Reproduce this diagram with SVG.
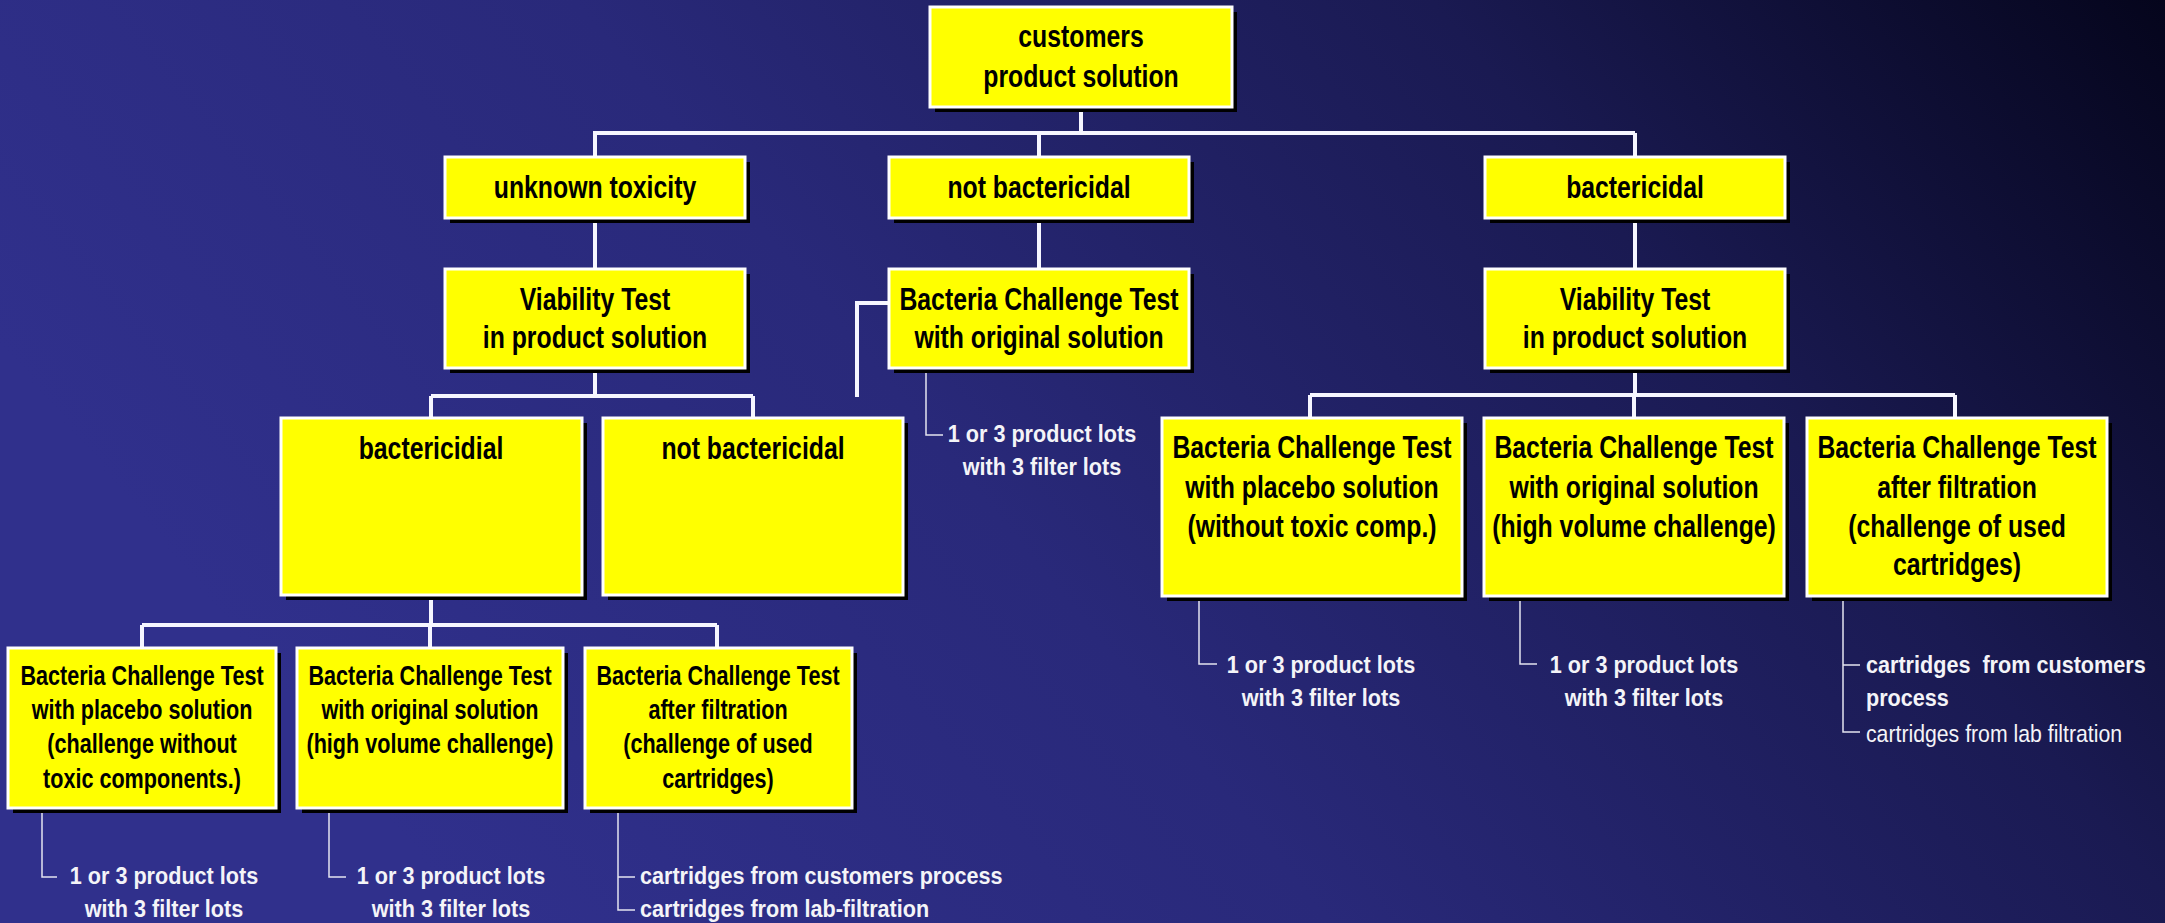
<svg xmlns="http://www.w3.org/2000/svg" width="2165" height="923" viewBox="0 0 2165 923">
<defs>
<linearGradient id="bg" gradientUnits="userSpaceOnUse" x1="2165" y1="0" x2="700" y2="1200">
<stop offset="0" stop-color="#05051c"/>
<stop offset="0.3" stop-color="#1a1a52"/>
<stop offset="0.65" stop-color="#29297a"/>
<stop offset="1" stop-color="#30308c"/>
</linearGradient>
</defs>
<style>
.sh{fill:#000}
.bx{fill:#ffff00;stroke:#ffffff;stroke-width:3}
.t32{font-family:"Liberation Sans",Arial,sans-serif;font-weight:bold;font-size:32px;fill:#000;text-anchor:middle}
.t27{font-family:"Liberation Sans",Arial,sans-serif;font-weight:bold;font-size:27px;fill:#000;text-anchor:middle}
.w{font-family:"Liberation Sans",Arial,sans-serif;font-weight:bold;font-size:24px;fill:#f4f4f8}
.wn{font-family:"Liberation Sans",Arial,sans-serif;font-weight:normal;font-size:24px;fill:#f4f4f8}
.c{text-anchor:middle}
.thick{fill:none;stroke:#f6f6ff;stroke-width:4}
.thin{fill:none;stroke:#e4e4f0;stroke-width:1.5}
</style>
<rect x="0" y="0" width="2165" height="923" fill="url(#bg)"/>

<g id="connectors">
<path class="thick" d="M1081 107V133M593 133H1635M595 133V157M1039 133V157M1635 133V157"/>
<path class="thick" d="M595 218V269M1039 218V269M1635 218V269"/>
<path class="thick" d="M595 368V396M431 396H753M431 396V418M753 396V418"/>
<path class="thick" d="M889 303H857V397"/>
<path class="thick" d="M1635 368V395M1310 395H1955M1310 395V418M1634 395V418M1955 395V418"/>
<path class="thick" d="M431 595V625M142 625H717M142 625V648M430 625V648M717 625V648"/>
<path class="thin" d="M926 368V435H943"/>
<path class="thin" d="M1199 596V664H1217"/>
<path class="thin" d="M1520 596V664H1537"/>
<path class="thin" d="M1843 596V732H1860M1843 665H1860"/>
<path class="thin" d="M42 808V877H57"/>
<path class="thin" d="M329 808V877H346"/>
<path class="thin" d="M618 808V910H635M618 877H635"/>
</g>

<g id="n-root">
<rect class="sh" x="935" y="12" width="302" height="100"/>
<rect class="bx" x="930" y="7" width="302" height="100"/>
<text class="t32" transform="translate(1081 47) scale(0.775 1)"><tspan x="0">customers</tspan><tspan x="0" dy="40">product solution</tspan></text>
</g>

<g id="n-unknown">
<rect class="sh" x="450" y="162" width="300" height="61"/>
<rect class="bx" x="445" y="157" width="300" height="61"/>
<text class="t32" transform="translate(595 198) scale(0.775 1)">unknown toxicity</text>
</g>
<g id="n-notbact">
<rect class="sh" x="894" y="162" width="300" height="61"/>
<rect class="bx" x="889" y="157" width="300" height="61"/>
<text class="t32" transform="translate(1039 198) scale(0.775 1)">not bactericidal</text>
</g>
<g id="n-bact">
<rect class="sh" x="1490" y="162" width="300" height="61"/>
<rect class="bx" x="1485" y="157" width="300" height="61"/>
<text class="t32" transform="translate(1635 198) scale(0.775 1)">bactericidal</text>
</g>

<g id="n-viab-left">
<rect class="sh" x="450" y="274" width="300" height="99"/>
<rect class="bx" x="445" y="269" width="300" height="99"/>
<text class="t32" transform="translate(595 310) scale(0.775 1)"><tspan x="0">Viability Test</tspan><tspan x="0" dy="38">in product solution</tspan></text>
</g>
<g id="n-bct-orig">
<rect class="sh" x="894" y="274" width="300" height="99"/>
<rect class="bx" x="889" y="269" width="300" height="99"/>
<text class="t32" transform="translate(1039 310) scale(0.775 1)"><tspan x="0">Bacteria Challenge Test</tspan><tspan x="0" dy="38">with original solution</tspan></text>
</g>
<g id="n-viab-right">
<rect class="sh" x="1490" y="274" width="300" height="99"/>
<rect class="bx" x="1485" y="269" width="300" height="99"/>
<text class="t32" transform="translate(1635 310) scale(0.775 1)"><tspan x="0">Viability Test</tspan><tspan x="0" dy="38">in product solution</tspan></text>
</g>

<g id="n-bactericidial">
<rect class="sh" x="286" y="423" width="301" height="177"/>
<rect class="bx" x="281" y="418" width="301" height="177"/>
<text class="t32" transform="translate(431 459) scale(0.775 1)">bactericidial</text>
</g>
<g id="n-notbact-left">
<rect class="sh" x="608" y="423" width="300" height="177"/>
<rect class="bx" x="603" y="418" width="300" height="177"/>
<text class="t32" transform="translate(753 459) scale(0.775 1)">not bactericidal</text>
</g>

<g id="n-r-placebo">
<rect class="sh" x="1167" y="423" width="300" height="178"/>
<rect class="bx" x="1162" y="418" width="300" height="178"/>
<text class="t32" transform="translate(1312 458) scale(0.775 1)"><tspan x="0">Bacteria Challenge Test</tspan><tspan x="0" dy="40">with placebo solution</tspan><tspan x="0" dy="39">(without toxic comp.)</tspan></text>
</g>
<g id="n-r-original">
<rect class="sh" x="1489" y="423" width="300" height="178"/>
<rect class="bx" x="1484" y="418" width="300" height="178"/>
<text class="t32" transform="translate(1634 458) scale(0.775 1)"><tspan x="0">Bacteria Challenge Test</tspan><tspan x="0" dy="40">with original solution</tspan><tspan x="0" dy="39">(high volume challenge)</tspan></text>
</g>
<g id="n-r-filtration">
<rect class="sh" x="1812" y="423" width="300" height="178"/>
<rect class="bx" x="1807" y="418" width="300" height="178"/>
<text class="t32" transform="translate(1957 458) scale(0.775 1)"><tspan x="0">Bacteria Challenge Test</tspan><tspan x="0" dy="40">after filtration</tspan><tspan x="0" dy="39">(challenge of used</tspan><tspan x="0" dy="38">cartridges)</tspan></text>
</g>

<g id="n-l-placebo">
<rect class="sh" x="13" y="653" width="268" height="160"/>
<rect class="bx" x="8" y="648" width="268" height="160"/>
<text class="t27" transform="translate(142 685) scale(0.8 1)"><tspan x="0">Bacteria Challenge Test</tspan><tspan x="0" dy="34">with placebo solution</tspan><tspan x="0" dy="34">(challenge without</tspan><tspan x="0" dy="35">toxic components.)</tspan></text>
</g>
<g id="n-l-original">
<rect class="sh" x="302" y="653" width="266" height="160"/>
<rect class="bx" x="297" y="648" width="266" height="160"/>
<text class="t27" transform="translate(430 685) scale(0.8 1)"><tspan x="0">Bacteria Challenge Test</tspan><tspan x="0" dy="34">with original solution</tspan><tspan x="0" dy="34">(high volume challenge)</tspan></text>
</g>
<g id="n-l-filtration">
<rect class="sh" x="590" y="653" width="267" height="160"/>
<rect class="bx" x="585" y="648" width="267" height="160"/>
<text class="t27" transform="translate(718 685) scale(0.8 1)"><tspan x="0">Bacteria Challenge Test</tspan><tspan x="0" dy="34">after filtration</tspan><tspan x="0" dy="34">(challenge of used</tspan><tspan x="0" dy="35">cartridges)</tspan></text>
</g>

<g id="labels">
<text class="w c" transform="translate(1042 442) scale(0.9 1)"><tspan x="0">1 or 3 product lots</tspan><tspan x="0" dy="33">with 3 filter lots</tspan></text>
<text class="w c" transform="translate(1321 673) scale(0.9 1)"><tspan x="0">1 or 3 product lots</tspan><tspan x="0" dy="33">with 3 filter lots</tspan></text>
<text class="w c" transform="translate(1644 673) scale(0.9 1)"><tspan x="0">1 or 3 product lots</tspan><tspan x="0" dy="33">with 3 filter lots</tspan></text>
<text class="w" transform="translate(1866 673) scale(0.9 1)"><tspan x="0">cartridges&#160; from customers</tspan><tspan x="0" dy="33">process</tspan></text>
<text class="wn" transform="translate(1866 742) scale(0.885 1)">cartridges from lab filtration</text>
<text class="w c" transform="translate(164 884) scale(0.9 1)"><tspan x="0">1 or 3 product lots</tspan><tspan x="0" dy="33">with 3 filter lots</tspan></text>
<text class="w c" transform="translate(451 884) scale(0.9 1)"><tspan x="0">1 or 3 product lots</tspan><tspan x="0" dy="33">with 3 filter lots</tspan></text>
<text class="w" transform="translate(640 884) scale(0.9 1)"><tspan x="0">cartridges from customers process</tspan><tspan x="0" dy="33">cartridges from lab-filtration</tspan></text>
</g>
</svg>
